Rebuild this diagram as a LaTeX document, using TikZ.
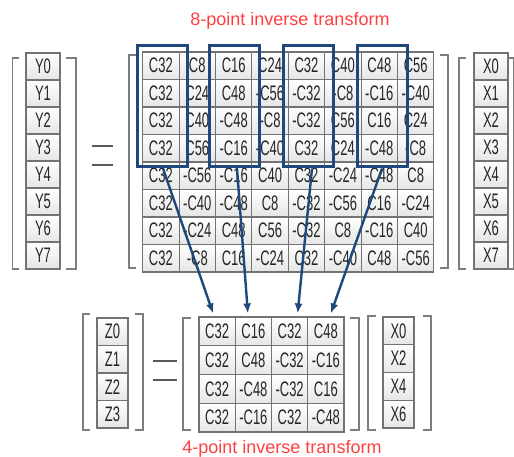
\documentclass[tikz,border=0pt]{standalone}
\usepackage{fontspec}
\setmainfont{Liberation Sans}
\newfontfamily\cellfont[FakeStretch=0.62]{Liberation Sans}
\usetikzlibrary{arrows.meta}
\definecolor{navy}{RGB}{31,73,125}
\definecolor{titlered}{RGB}{255,64,64}
\definecolor{cellborder}{RGB}{115,115,115}
\definecolor{bracketgray}{RGB}{125,125,125}
\definecolor{eqgray}{RGB}{90,90,90}
\begin{document}
\begin{tikzpicture}[x=1pt,y=-1pt,
  cell/.style={rectangle, draw=cellborder, line width=1.1pt, top color=white, bottom color=black!10,
    inner sep=0pt, font=\cellfont\fontsize{21}{21}\selectfont, text=black!85},
  bigcell/.style={cell, minimum width=36.4pt, minimum height=27.5pt},
  ycell/.style={cell, minimum width=34pt, minimum height=27pt},
  zcell/.style={cell, minimum width=31pt, minimum height=27.5pt},
  smallcell/.style={cell, minimum width=36.25pt, minimum height=28.75pt},
  xscell/.style={cell, minimum width=31pt, minimum height=27.75pt},
  bracket/.style={draw=bracketgray, line width=1.3pt},
  eqline/.style={draw=eqgray, line width=1.6pt},
  bluebox/.style={rectangle, draw=navy, line width=3pt, inner sep=0pt, minimum width=50pt, minimum height=121pt},
  arr/.style={draw=navy, line width=2.4pt, -{Latex[length=10pt,width=8pt]}},
  title/.style={text=titlered, font=\fontsize{18}{18}\selectfont, inner sep=0pt, anchor=base}
]
\useasboundingbox (0,0) rectangle (514,457);
\fill[white] (0,0) rectangle (514,457);

% title
\node[title] (t1) at (290,26) {8-point inverse transform};

% Y column
\foreach \t [count=\r from 0] in {Y0,Y1,Y2,Y3,Y4,Y5,Y6,Y7}
  \node[ycell] (y-\r) at (43,{53+27*\r+13.5}) {\t};
\draw[bracket] (19,58) -- (12.5,58) -- (12.5,269) -- (19,269);
\draw[bracket] (66,58) -- (76,58) -- (76,269) -- (66,269);

% equals
\draw[eqline] (92,146) -- (113,146);
\draw[eqline] (92,165) -- (113,165);

% big matrix
\foreach \row [count=\r from 0] in {
  {C32,C8,C16,C24,C32,C40,C48,C56},
  {C32,C24,C48,-C56,-C32,-C8,-C16,-C40},
  {C32,C40,-C48,-C8,-C32,C56,C16,C24},
  {C32,C56,-C16,-C40,C32,C24,-C48,-C8},
  {C32,-C56,-C16,C40,C32,-C24,-C48,C8},
  {C32,-C40,-C48,C8,-C32,-C56,C16,-C24},
  {C32,-C24,C48,C56,-C32,C8,-C16,C40},
  {C32,-C8,C16,-C24,C32,-C40,C48,-C56}} {
  \foreach \e [count=\c from 0] in \row {
    \node[bigcell] (m-\r-\c) at ({142.7+36.4*\c+18.2},{52+27.5*\r+13.75}) {\e};
  }
}
\draw[bracket] (136,55) -- (129,55) -- (129,268) -- (136,268);
\draw[bracket] (440,55) -- (448,55) -- (448,268) -- (440,268);

% X column
\foreach \t [count=\r from 0] in {X0,X1,X2,X3,X4,X5,X6,X7}
  \node[ycell] (x-\r) at (491,{53+27*\r+13.5}) {\t};
\draw[bracket] (466,58) -- (459,58) -- (459,269) -- (466,269);
\draw[bracket] (508,58) -- (514,58) -- (514,269) -- (508,269);

% Z column
\foreach \t [count=\r from 0] in {Z0,Z1,Z2,Z3}
  \node[zcell] (z-\r) at (112.5,{318+27.5*\r+13.75}) {\t};
\draw[bracket] (90,314) -- (83,314) -- (83,430) -- (90,430);
\draw[bracket] (135,314) -- (143,314) -- (143,430) -- (135,430);

% equals small
\draw[eqline] (153,361) -- (177,361);
\draw[eqline] (153,380) -- (177,380);

% small matrix
\foreach \row [count=\r from 0] in {
  {C32,C16,C32,C48},
  {C32,C48,-C32,-C16},
  {C32,-C48,-C32,C16},
  {C32,-C16,C32,-C48}} {
  \foreach \e [count=\c from 0] in \row {
    \node[smallcell] (s-\r-\c) at ({199+36.25*\c+18.125},{317+28.75*\r+14.375}) {\e};
  }
}
\draw[bracket] (191,318) -- (183,318) -- (183,430) -- (191,430);
\draw[bracket] (350,318) -- (359,318) -- (359,430) -- (350,430);

% X small column
\foreach \t [count=\r from 0] in {X0,X2,X4,X6}
  \node[xscell] (xs-\r) at (398.5,{317+27.75*\r+13.875}) {\t};
\draw[bracket] (376,316) -- (368,316) -- (368,430) -- (376,430);
\draw[bracket] (423,316) -- (431,316) -- (431,430) -- (423,430);

% blue boxes
\node[bluebox] (b1) at (162.5,106.5) {};
\node[bluebox] (b2) at (234,106.5) {};
\node[bluebox] (b3) at (308.5,106.5) {};
\node[bluebox] (b4) at (382,106.5) {};

% arrows
\draw[arr] ([xshift=0.5pt]b1.south) -- ([xshift=-4pt,yshift=3pt]s-0-0.north);
\draw[arr] ([xshift=3pt]b2.south) -- ([xshift=-5.5pt,yshift=3pt]s-0-1.north);
\draw[arr] ([xshift=3.5pt]b3.south) -- ([xshift=8pt,yshift=3pt]s-0-2.north);
\draw[arr] (b4.south) -- ([xshift=5pt,yshift=3pt]s-0-3.north);

% bottom title
\node[title] (t2) at (282,453) {4-point inverse transform};
\end{tikzpicture}
\end{document}
